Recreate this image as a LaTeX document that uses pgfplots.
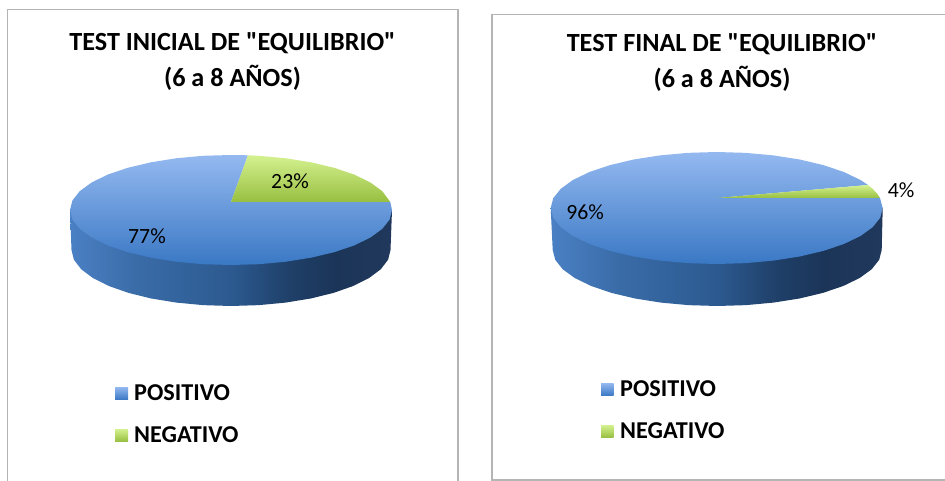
\documentclass[border=0pt]{standalone}
\usepackage{pgfplots}
\pgfplotsset{compat=1.18}
\usepackage{fontspec}
\setmainfont{Carlito}[Ligatures=TeXOff]
\definecolor{frameg}{HTML}{B4B4B4}
\definecolor{btop}{HTML}{94B9F0}
\definecolor{bbot}{HTML}{3A78C4}
\definecolor{gtop}{HTML}{D4F190}
\definecolor{gbot}{HTML}{98BF40}
\definecolor{sa}{HTML}{4A80C4}
\definecolor{sb}{HTML}{3A6CA8}
\definecolor{sc}{HTML}{2C5A90}
\definecolor{sd}{HTML}{1F4069}
\definecolor{se}{HTML}{1B3558}
\definecolor{sf}{HTML}{20385C}
\pgfdeclarehorizontalshading{sideshade}{100bp}{
 color(0bp)=(sa);
 color(25bp)=(sa);
 color(35bp)=(sb);
 color(50bp)=(sc);
 color(59bp)=(sd);
 color(66bp)=(se);
 color(75bp)=(sf);
 color(100bp)=(sf)}
\begin{document}
\begin{tikzpicture}
\path[use as bounding box] (0,0) rectangle (945pt,481pt);
\begin{axis}[
  at={(0,0)}, anchor=south west,
  scale only axis, width=945pt, height=481pt,
  xmin=0, xmax=945, ymin=0, ymax=481, y dir=reverse,
  hide axis, clip=true,
  every axis plot/.append style={draw=none, no marks, line width=0pt},
]
% panel frames
\addplot[draw=frameg, line width=1.5pt] coordinates {(7.5,481) (7.5,9.5) (458,9.5) (458,481)};
\addplot[draw=frameg, line width=1.5pt] coordinates {(945,14.7) (492,14.7) (492,480) (945,480)};
% left pie: side
\addplot[shading=sideshade] coordinates {
(70,210) (71.5,250) (73.9,259.7) (81.1,269.15) (92.9,278) (108.8,286) (128.5,292.9) (151.25,298.5) (176.4,302.6) (203.3,305.15) (231,306) (258.7,305.15) (285.6,302.6) (310.75,298.5) (333.5,292.9) (353.2,286) (369.1,278) (380.9,269.15) (388.1,259.7) (390.5,250) (392,210) (70,210)};
% left pie: POSITIVO 77
\addplot[top color=btop, bottom color=bbot] coordinates {
(231,202) (248,155.3) (231,155) (203,155.8) (175.9,158.3) (150.5,162.4) (127.5,167.9) (107.7,174.6) (91.6,182.5) (79.7,191.2) (72.4,200.45) (70,210) (72.4,219.55) (79.7,228.8) (91.6,237.5) (107.7,245.4) (127.5,252.1) (150.5,257.6) (175.9,261.7) (203,264.2) (231,265) (259,264.2) (286.1,261.7) (311.5,257.6) (334.5,252.1) (354.3,245.4) (370.4,237.5) (382.3,228.8) (389.6,219.55) (392,210) (390.3,202) (231,202)};
% left pie: NEGATIVO 23
\addplot[top color=gtop, bottom color=gbot] coordinates {
(231,202) (390.3,202) (382.3,191.2) (370.4,182.5) (354.3,174.6) (334.5,167.9) (311.5,162.4) (286.1,158.3) (259,155.8) (248,155.3) (231,202)};
% right pie: side
\addplot[shading=sideshade] coordinates {
(550.7,208) (552.7,250) (555.2,259.7) (562.6,269.15) (574.7,278) (591.2,286) (611.5,292.9) (635,298.5) (660.9,302.6) (688.6,305.15) (717.2,306) (745.8,305.15) (773.5,302.6) (799.5,298.5) (822.9,292.9) (843.2,286) (859.7,278) (871.8,269.15) (879.2,259.7) (881.7,250) (882.7,208) (550.7,208)};
% right pie: POSITIVO 96
\addplot[top color=btop, bottom color=bbot] coordinates {
(716.7,198) (868,185) (860.5,180) (843.9,172) (823.4,165.1) (799.7,159.5) (773.5,155.4) (745.5,152.85) (716.7,152) (687.9,152.85) (659.9,155.4) (633.7,159.5) (610,165.1) (589.5,172) (572.9,180) (560.7,188.85) (553.2,198.3) (550.7,208) (553.2,217.7) (560.7,227.15) (572.9,236) (589.5,244) (610,250.9) (633.7,256.5) (659.9,260.6) (687.9,263.15) (716.7,264) (745.5,263.15) (773.5,260.6) (799.7,256.5) (823.4,250.9) (843.9,244) (860.5,236) (872.7,227.15) (880.2,217.7) (882.7,208) (880,198) (716.7,198)};
% right pie: NEGATIVO 4
\addplot[top color=gtop, bottom color=gbot] coordinates {
(716.7,198) (880,198) (877,193.5) (872.7,188.85) (868,185) (716.7,198)};
% legend keys
\addplot[top color=btop, bottom color=bbot] coordinates {(115,387) (128,387) (128,399.5) (115,399.5) (115,387)};
\addplot[top color=gtop, bottom color=gbot] coordinates {(115,429) (128,429) (128,441.5) (115,441.5) (115,429)};
\addplot[top color=btop, bottom color=bbot] coordinates {(601,383) (613.5,383) (613.5,395.5) (601,395.5) (601,383)};
\addplot[top color=gtop, bottom color=gbot] coordinates {(601,425) (613.5,425) (613.5,437.5) (601,437.5) (601,425)};
% titles
\node[font=\fontsize{26.2}{30}\selectfont\bfseries, anchor=center] at (axis cs:232.5,43) {TEST INICIAL DE "EQUILIBRIO"};
\node[font=\fontsize{26.2}{30}\selectfont\bfseries, anchor=center] at (axis cs:232.5,78) {(6 a 8 AÑOS)};
\node[font=\fontsize{26.2}{30}\selectfont\bfseries, anchor=center] at (axis cs:722,44) {TEST FINAL DE "EQUILIBRIO"};
\node[font=\fontsize{26.2}{30}\selectfont\bfseries, anchor=center] at (axis cs:722,79) {(6 a 8 AÑOS)};
% data labels
\node[font=\fontsize{21.7}{25}\selectfont, anchor=center] at (axis cs:290,181) {23\%};
\node[font=\fontsize{21.7}{25}\selectfont, anchor=center] at (axis cs:147,236) {77\%};
\node[font=\fontsize{21.7}{25}\selectfont, anchor=center] at (axis cs:585,212) {96\%};
\node[font=\fontsize{21.7}{25}\selectfont, anchor=center] at (axis cs:901,190) {4\%};
% legend text
\node[font=\fontsize{24.2}{28}\selectfont\bfseries, anchor=west, inner sep=0pt] at (axis cs:134,393) {POSITIVO};
\node[font=\fontsize{24.2}{28}\selectfont\bfseries, anchor=west, inner sep=0pt] at (axis cs:134,435) {NEGATIVO};
\node[font=\fontsize{24.2}{28}\selectfont\bfseries, anchor=west, inner sep=0pt] at (axis cs:620,389) {POSITIVO};
\node[font=\fontsize{24.2}{28}\selectfont\bfseries, anchor=west, inner sep=0pt] at (axis cs:620,431) {NEGATIVO};
\end{axis}
\end{tikzpicture}
\end{document}
